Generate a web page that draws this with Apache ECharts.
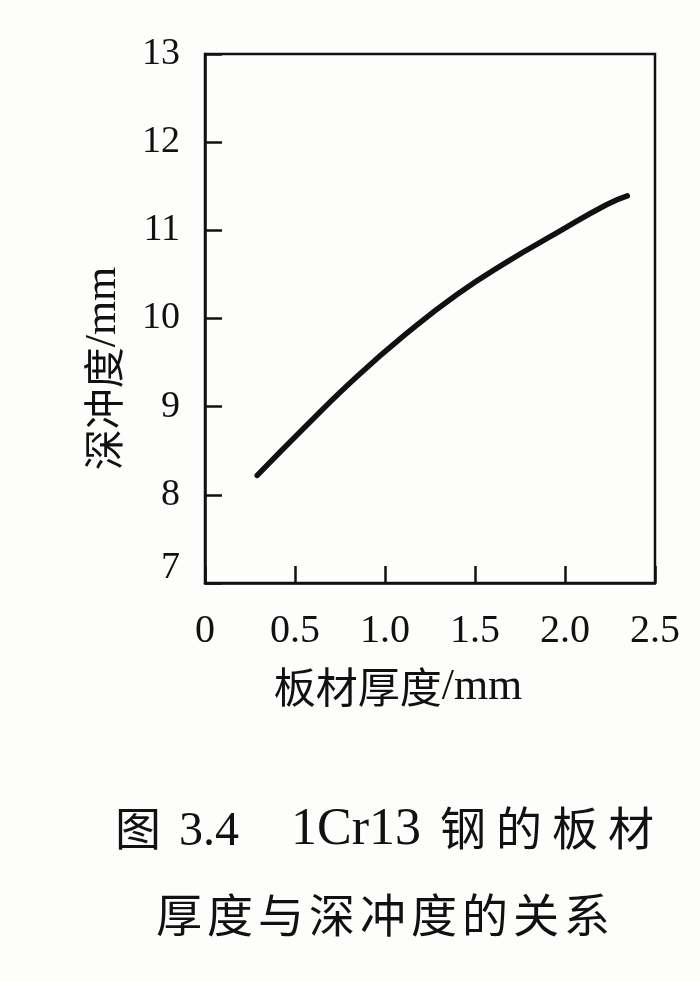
<!DOCTYPE html>
<html>
<head>
<meta charset="utf-8">
<script src="https://cdn.jsdelivr.net/npm/echarts@6/dist/echarts.min.js"></script>
<style>
html,body{margin:0;padding:0;background:#fdfdfc;}
#chart{width:700px;height:982px;}
</style>
</head>
<body>
<div id="chart"></div>
<script>
// Data
var thickness = [0.29, 0.565, 0.843, 1.12, 1.398, 1.676, 1.954, 2.23, 2.346];
var depth = [8.22, 8.79, 9.34, 9.83, 10.27, 10.64, 10.97, 11.29, 11.39];
var xTicks = [0, 0.5, 1.0, 1.5, 2.0, 2.5];
var yTicks = [7, 8, 9, 10, 11, 12, 13];
var xName = ['板材厚度', '/mm'];
var yName = ['深冲度', '/mm'];
var captionFig = ['图', '3.4', '1Cr13', '钢的板材'];
var captionLine2 = '厚度与深冲度的关系';

var points = thickness.map(function (t, i) { return [t, depth[i]]; });
var ink = '#111';
var serif = '"Liberation Serif", "DejaVu Serif", serif';
var cjk = '"Noto Sans CJK SC", sans-serif';

function spaced(str, tag) {
  return str.split('').map(function (ch) { return '{' + tag + '|' + ch + '}'; }).join('');
}

var line1 = '{fig|' + captionFig[0] + '}{num|' + captionFig[1] + '}{lat|' + captionFig[2] + '}' + spaced(captionFig[3], 'wide');
var line2 = spaced(captionLine2, 'ch');

var chart = echarts.init(document.getElementById('chart'), null, { renderer: 'canvas' });
chart.setOption({
  backgroundColor: '#fdfdfc',
  animation: false,
  grid: {
    left: 205, right: 45, top: 54, bottom: 399,
    show: true, borderColor: ink, borderWidth: 2.5, backgroundColor: 'transparent'
  },
  xAxis: {
    type: 'value',
    min: xTicks[0], max: xTicks[xTicks.length - 1], interval: 0.5,
    name: '{c|' + xName[0] + '}{e|' + xName[1] + '}',
    nameLocation: 'middle',
    nameGap: 82,
    nameTextStyle: {
      padding: [0, 64, 0, 0],
      rich: {
        c: { fontFamily: cjk, fontSize: 42, color: ink },
        e: { fontFamily: serif, fontSize: 44, color: ink }
      }
    },
    axisLine: { lineStyle: { color: ink, width: 2.5 } },
    axisTick: { inside: true, length: 17, lineStyle: { color: ink, width: 2.5 } },
    splitLine: { show: false },
    axisLabel: {
      margin: 28,
      fontFamily: serif, fontSize: 40, color: ink,
      formatter: function (v) { return v === 0 ? '0' : v.toFixed(1); }
    }
  },
  yAxis: {
    type: 'value',
    min: yTicks[0], max: yTicks[yTicks.length - 1], interval: 1,
    name: '{c|' + yName[0] + '}{e|' + yName[1] + '}',
    nameLocation: 'middle',
    nameGap: 80,
    nameTextStyle: {
      padding: [0, 100, 0, 0],
      rich: {
        c: { fontFamily: cjk, fontSize: 41, color: ink },
        e: { fontFamily: serif, fontSize: 44, color: ink }
      }
    },
    axisLine: { lineStyle: { color: ink, width: 2.5 } },
    axisTick: { inside: true, length: 17, lineStyle: { color: ink, width: 2.5 } },
    splitLine: { show: false },
    axisLabel: {
      margin: 25,
      fontFamily: serif, fontSize: 38, color: ink,
      formatter: function (v) { return v === 7 ? '{low|7}' : String(v); },
      rich: { low: { fontFamily: serif, fontSize: 38, color: ink, padding: [0, 0, 30, 0] } }
    }
  },
  series: [{
    type: 'line',
    data: points,
    smooth: true,
    showSymbol: false,
    lineStyle: { color: ink, width: 5.5, cap: 'round' }
  }],
  graphic: [
    {
      type: 'text', x: 115, y: 828,
      style: {
        text: line1, textAlign: 'left', textVerticalAlign: 'middle', fill: ink,
        rich: {
          fig: { fontFamily: cjk, fontSize: 46, lineHeight: 60, verticalAlign: 'middle', color: ink, padding: [0, 18, 0, 0] },
          num: { fontFamily: serif, fontSize: 48, lineHeight: 60, verticalAlign: 'middle', color: ink, padding: [8, 52, 0, 0] },
          lat: { fontFamily: serif, fontSize: 52, lineHeight: 60, verticalAlign: 'middle', color: ink, padding: [4, 14, 0, 0] },
          wide: { fontFamily: cjk, fontSize: 46, lineHeight: 60, verticalAlign: 'middle', color: ink, padding: [0, 5, 0, 5] }
        }
      }
    },
    {
      type: 'text', x: 383, y: 915,
      style: {
        text: line2, textAlign: 'center', textVerticalAlign: 'middle', fill: ink,
        rich: { ch: { fontFamily: cjk, fontSize: 46, color: ink, padding: [0, 2.5, 0, 2.5] } }
      }
    }
  ]
});
</script>
</body>
</html>
